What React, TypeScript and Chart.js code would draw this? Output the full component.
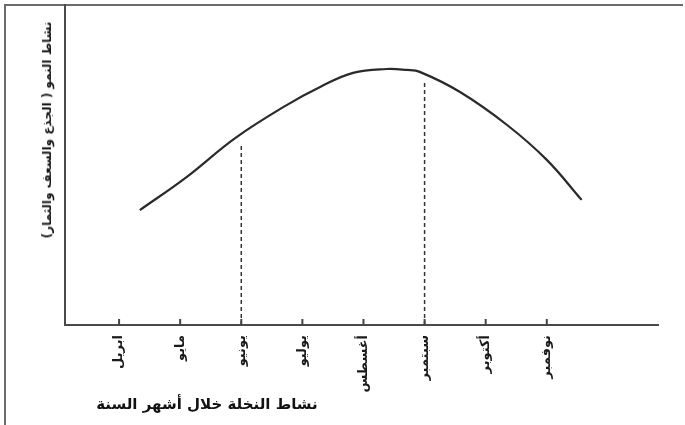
import React, { useEffect, useRef } from "react";
import { Chart, registerables } from "chart.js";

Chart.register(...registerables);

// Months along the x axis (index 0..7)
const months = ["ابريل", "مايو", "يونيو", "يوليو", "أغسطس", "سبتمبر", "أكتوبر", "نوفمبر"];
const monthIdx = [0, 1, 2, 3, 4, 5, 6, 7];

// Growth activity curve (x in month units, y in relative activity 0..100)
const curveX = [0.34, 1.11, 1.9, 2.75, 3.29, 3.83, 4.38, 4.71, 4.92, 5.58, 6.35, 7.0, 7.57];
const curveY = [35.9, 46.3, 58.4, 68.8, 74.4, 78.8, 80.0, 79.7, 79.1, 72.8, 62.5, 51.6, 39.1];

// Dashed markers (June and September)
const markerX = [2, 5];
const markerTop = [56, 76];

const yTitle = "نشاط النمو ( الجذع والسعف والثمار)";
const caption = "نشاط النخلة خلال أشهر السنة";

const upTicks = {
  id: "upTicks",
  afterDatasetsDraw(chart: any) {
    const xs = chart.scales.x;
    const ctx = chart.ctx;
    const y = chart.chartArea.bottom;
    ctx.save();
    ctx.strokeStyle = "#444";
    ctx.lineWidth = 2;
    monthIdx.forEach((v) => {
      const px = xs.getPixelForValue(v);
      ctx.beginPath();
      ctx.moveTo(px, y);
      ctx.lineTo(px, y - 6);
      ctx.stroke();
    });
    ctx.restore();
  },
};

export default function App() {
  const ref = useRef<HTMLCanvasElement | null>(null);

  useEffect(() => {
    if (!ref.current) return;
    const curve = curveX.map((x, i) => ({ x, y: curveY[i] }));
    const markers = markerX.map((x, i) => ({
      data: [
        { x, y: 0 },
        { x, y: markerTop[i] },
      ],
      borderColor: "#333",
      borderWidth: 1.5,
      borderDash: [4, 3],
      pointRadius: 0,
      fill: false,
    }));
    const chart = new Chart(ref.current, {
      type: "line",
      data: {
        datasets: [
          {
            data: curve,
            borderColor: "#2a2a2a",
            borderWidth: 2.2,
            pointRadius: 0,
            tension: 0.4,
            fill: false,
          },
          ...markers,
        ] as any,
      },
      options: {
        animation: false,
        responsive: true,
        maintainAspectRatio: false,
        layout: { padding: { left: 0, top: 5, right: 27, bottom: 0 } },
        plugins: { legend: { display: false }, tooltip: { enabled: false } },
        scales: {
          x: {
            type: "linear",
            min: -0.885,
            max: 8.82,
            afterBuildTicks: (scale: any) => {
              scale.ticks = monthIdx.map((v) => ({ value: v }));
            },
            afterFit: (scale: any) => {
              scale.height = 100;
            },
            grid: { display: false, drawTicks: false },
            border: { display: true, color: "#4a4a4a", width: 2 },
            ticks: {
              autoSkip: false,
              maxRotation: 90,
              minRotation: 90,
              padding: 10,
              color: "#1a1a1a",
              font: { family: "DejaVu Sans", size: 13, weight: "bold" },
              callback: (v: any) => months[Math.round(Number(v))] ?? "",
            },
          },
          y: {
            min: 0,
            max: 100,
            afterFit: (scale: any) => {
              scale.width = 65;
            },
            grid: { display: false, drawTicks: false },
            border: { display: true, color: "#4a4a4a", width: 2 },
            ticks: { display: false },
          },
        },
      } as any,
      plugins: [upTicks],
    });
    return () => chart.destroy();
  }, []);

  return (
    <div style={{ position: "fixed", left: 0, top: 0, width: 685, height: 425, background: "#fff" }}>
      <div
        style={{
          position: "absolute",
          left: 4,
          top: 4,
          width: 679,
          height: 421,
          borderTop: "2px solid #6b6b6b",
          borderLeft: "2px solid #6b6b6b",
          boxSizing: "border-box",
        }}
      />
      <canvas ref={ref} style={{ position: "absolute", left: 0, top: 0, width: 685, height: 425 }} />
      <div
        style={{
          position: "absolute",
          left: 47,
          top: 130,
          transform: "translate(-50%, -50%) rotate(-90deg)",
          whiteSpace: "nowrap",
          direction: "rtl",
          fontFamily: "DejaVu Sans",
          fontWeight: "bold",
          fontSize: 12,
          color: "#1a1a1a",
        }}
      >
        {yTitle}
      </div>
      <div
        style={{
          position: "absolute",
          left: 207,
          top: 404,
          transform: "translate(-50%, -50%)",
          whiteSpace: "nowrap",
          direction: "rtl",
          fontFamily: "DejaVu Sans",
          fontWeight: "bold",
          fontSize: 15,
          color: "#111",
        }}
      >
        {caption}
      </div>
    </div>
  );
}
